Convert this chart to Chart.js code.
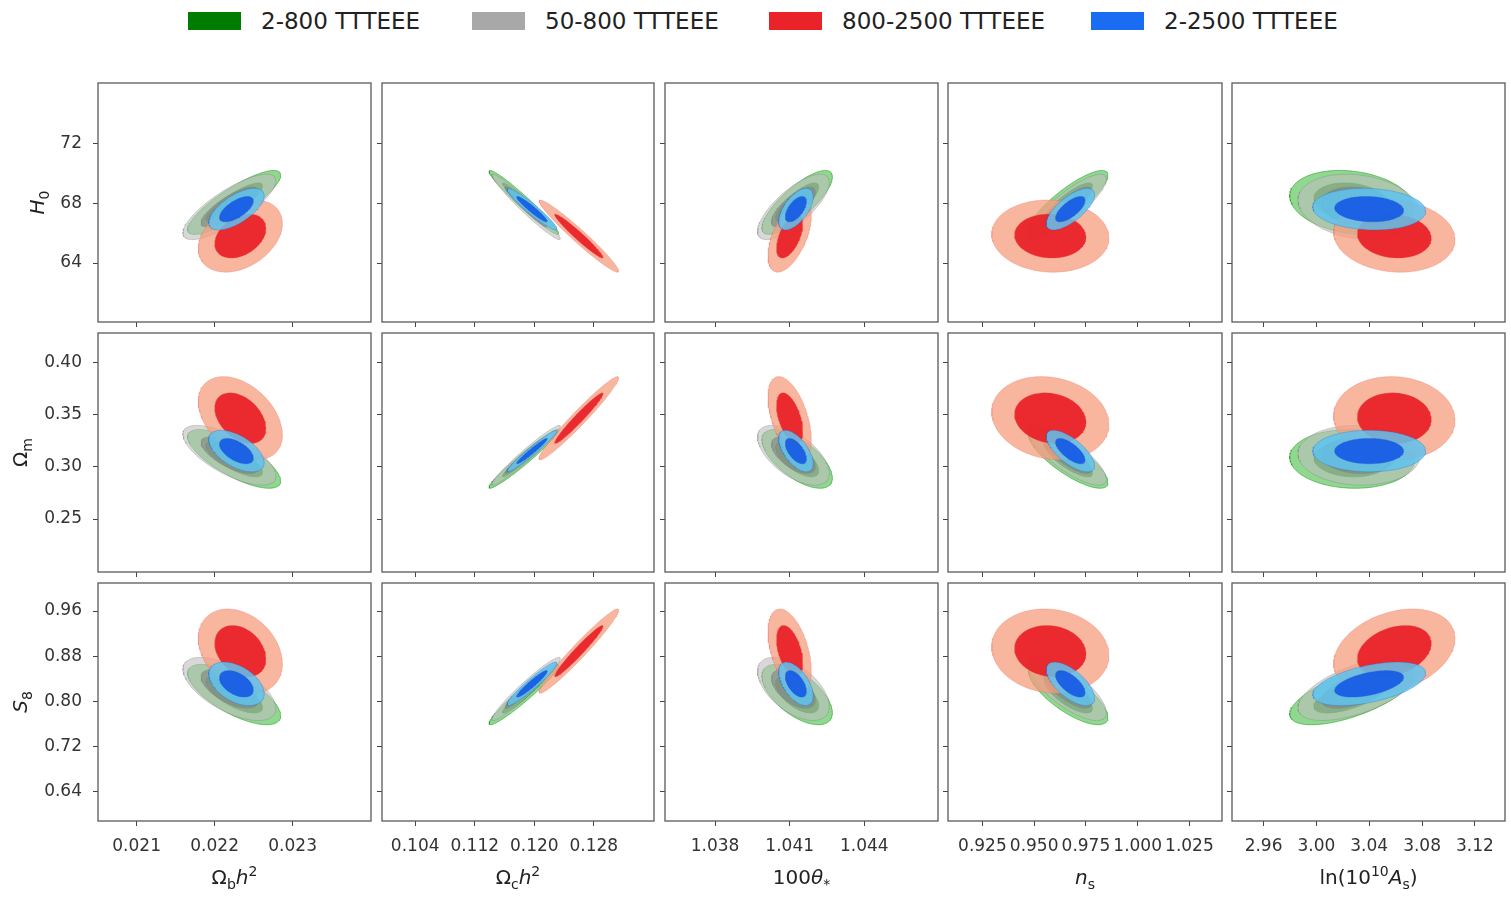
<!DOCTYPE html>
<html>
<head>
<meta charset="utf-8">
<title>TTTEEE multipole-range constraints</title>
<script src="https://cdn.jsdelivr.net/npm/chart.js@4.4.1/dist/chart.umd.min.js"></script>
<style>
  body { margin: 0; background: #fff; width: 1511px; height: 898px; overflow: hidden; position: relative; }
  .key { position: absolute; top: 12px; width: 53px; height: 18px; }
  .keyLabel { position: absolute; top: 21px; transform: translateY(-50%); line-height: 1;
              font: 23px 'DejaVu Sans', sans-serif; color: #222; white-space: nowrap; }
</style>
</head>
<body>
<div id="legend"></div>
<script>
// ---- axes ----
const xTicks = [
  [0.021, 0.022, 0.023],
  [0.104, 0.112, 0.120, 0.128],
  [1.038, 1.041, 1.044],
  [0.925, 0.950, 0.975, 1.000, 1.025],
  [2.96, 3.00, 3.04, 3.08, 3.12]
];
const xTickLabels = [
  ['0.021', '0.022', '0.023'],
  ['0.104', '0.112', '0.120', '0.128'],
  ['1.038', '1.041', '1.044'],
  ['0.925', '0.950', '0.975', '1.000', '1.025'],
  ['2.96', '3.00', '3.04', '3.08', '3.12']
];
const xRanges = [[0.020505, 0.024005], [0.09954, 0.13609], [1.03599, 1.04696], [0.90838, 1.04075], [2.9361, 3.1428]];

const yTicks = [
  [64, 68, 72],
  [0.25, 0.30, 0.35, 0.40],
  [0.64, 0.72, 0.80, 0.88, 0.96]
];
const yTickLabels = [
  ['64', '68', '72'],
  ['0.25', '0.30', '0.35', '0.40'],
  ['0.64', '0.72', '0.80', '0.88', '0.96']
];
const yRanges = [[60.06, 76.03], [0.1993, 0.428], [0.5881, 1.0096]];

// ---- chains: columns = [ombh2, omch2, 100theta, ns, logA], rows = [H0, Omega_m, S8] ----
const seriesNames = ['2-800 TTTEEE', '50-800 TTTEEE', '800-2500 TTTEEE', '2-2500 TTTEEE'];

const mean2to800X = [0.02225, 0.1186, 1.04130, 0.9665, 3.027];
const mean2to800Y = [68.05, 0.3075, 0.812];
const sigma2to800X = [0.00024, 0.00188, 0.00057, 0.0077, 0.019];
const sigma2to800Y = [0.86, 0.0113, 0.0215];
const corr2to800 = [
  [0.85, -0.97, 0.80, 0.85, -0.20],
  [-0.75, 0.97, -0.65, -0.80, -0.05],
  [-0.70, 0.96, -0.60, -0.75, 0.65]
];

const mean50to800X = [0.02219, 0.1189, 1.04115, 0.9660, 3.032];
const mean50to800Y = [67.75, 0.3110, 0.8220];
const sigma50to800X = [0.00024, 0.00185, 0.00058, 0.0076, 0.0185];
const sigma50to800Y = [0.88, 0.0115, 0.0225];
const corr50to800 = [
  [0.80, -0.97, 0.75, 0.85, -0.20],
  [-0.70, 0.97, -0.60, -0.80, -0.05],
  [-0.62, 0.96, -0.55, -0.75, 0.60]
];

const mean800to2500X = [0.02233, 0.1260, 1.04100, 0.9578, 3.059];
const mean800to2500Y = [65.8, 0.3465, 0.889];
const sigma800to2500X = [0.000217, 0.00215, 0.00035, 0.0114, 0.0185];
const sigma800to2500Y = [0.97, 0.0160, 0.0300];
const corr800to2500 = [
  [0.35, -0.97, 0.55, -0.05, -0.10],
  [-0.40, 0.97, -0.50, -0.15, -0.05],
  [-0.30, 0.97, -0.45, -0.10, 0.30]
];

const mean2to2500X = [0.02228, 0.1197, 1.04125, 0.9675, 3.040];
const mean2to2500Y = [67.6, 0.3150, 0.8310];
const sigma2to2500X = [0.000143, 0.00135, 0.00028, 0.0047, 0.0172];
const sigma2to2500Y = [0.56, 0.0080, 0.0155];
const corr2to2500 = [
  [0.65, -0.95, 0.60, 0.70, -0.10],
  [-0.55, 0.97, -0.60, -0.70, 0.00],
  [-0.45, 0.95, -0.55, -0.65, 0.50]
];

const chains = [
  { meanX: mean2to800X, meanY: mean2to800Y, sigmaX: sigma2to800X, sigmaY: sigma2to800Y, corr: corr2to800 },
  { meanX: mean50to800X, meanY: mean50to800Y, sigmaX: sigma50to800X, sigmaY: sigma50to800Y, corr: corr50to800 },
  { meanX: mean800to2500X, meanY: mean800to2500Y, sigmaX: sigma800to2500X, sigmaY: sigma800to2500Y, corr: corr800to2500 },
  { meanX: mean2to2500X, meanY: mean2to2500Y, sigmaX: sigma2to2500X, sigmaY: sigma2to2500Y, corr: corr2to2500 }
];

// 68% and 95% levels for a 2D gaussian (sqrt of delta chi^2)
const LEVEL_68 = 1.517;
const LEVEL_95 = 2.486;

const FONT = "'DejaVu Sans', sans-serif";

const palette = [
  { key: '#007d00', outer: 'rgba(125,208,125,0.85)', inner: 'rgba(40,140,40,0.85)', edge: 'rgba(0,140,0,0.45)' },
  { key: '#a8a8a8', outer: 'rgba(190,190,190,0.6)', inner: 'rgba(130,130,130,0.6)', edge: 'rgba(120,120,120,0.3)' },
  { key: '#ea232b', outer: 'rgba(246,158,126,0.75)', inner: 'rgba(232,30,38,0.92)', edge: 'rgba(230,90,80,0.25)' },
  { key: '#1a6df3', outer: 'rgba(95,195,240,0.85)', inner: 'rgba(22,90,228,0.92)', edge: 'rgba(30,100,210,0.3)' }
];

// panel boxes in page pixels
const panelCols = [[98, 371], [382, 654], [665, 938], [948, 1222], [1232, 1505]];
const panelRows = [[83, 322], [333, 572], [583, 821]];

// axis titles: [text, style]
const xTitles = [
  [['Ω', ''], ['b', 'sub'], ['h', 'it'], ['2', 'sup']],
  [['Ω', ''], ['c', 'sub'], ['h', 'it'], ['2', 'sup']],
  [['100', ''], ['θ', 'it'], ['*', 'sub']],
  [['n', 'it'], ['s', 'sub']],
  [['ln(10', ''], ['10', 'sup'], ['A', 'it'], ['s', 'sub'], [')', '']]
];
const yTitles = [
  [['H', 'it'], ['0', 'sub']],
  [['Ω', ''], ['m', 'sub']],
  [['S', 'it'], ['8', 'sub']]
];
const yTitleX = [37, 20, 20];

// ---- legend ----
const legendKeys = [188, 472, 769, 1091];
const legend = document.getElementById('legend');
seriesNames.forEach((name, i) => {
  const box = document.createElement('div');
  box.className = 'key';
  box.style.left = legendKeys[i] + 'px';
  box.style.background = palette[i].key;
  legend.appendChild(box);
  const label = document.createElement('div');
  label.className = 'keyLabel';
  label.style.left = (legendKeys[i] + 73) + 'px';
  label.textContent = name;
  legend.appendChild(label);
});

// ---- helpers ----
function ellipsePoints(mx, my, sx, sy, rho, k) {
  const pts = [];
  const n = 120;
  const q = Math.sqrt(1 - rho * rho);
  for (let i = 0; i <= n; i++) {
    const t = 2 * Math.PI * i / n;
    const u = Math.cos(t), v = Math.sin(t);
    pts.push({ x: mx + k * sx * u, y: my + k * sy * (rho * u + q * v) });
  }
  return pts;
}

function panelDatasets(r, c) {
  const out = [];
  chains.forEach((ch, i) => {
    [LEVEL_95, LEVEL_68].forEach((k, j) => {
      out.push({
        label: seriesNames[i],
        data: ellipsePoints(ch.meanX[c], ch.meanY[r], ch.sigmaX[c], ch.sigmaY[r], ch.corr[r][c], k),
        showLine: true,
        fill: 'shape',
        backgroundColor: j ? palette[i].inner : palette[i].outer,
        borderColor: palette[i].edge,
        borderWidth: 1,
        pointRadius: 0,
        // later chains sit on top
        order: (chains.length - i) * 2 - j
      });
    });
  });
  return out;
}

function partFont(kind, size) {
  const s = (kind === 'sub' || kind === 'sup') ? Math.round(size * 0.7) : size;
  return (kind === 'it' ? 'italic ' : '') + s + 'px ' + FONT;
}

function drawRich(ctx, parts, cx, cy, size, angle) {
  ctx.save();
  ctx.translate(cx, cy);
  ctx.rotate(angle);
  ctx.textBaseline = 'alphabetic';
  ctx.textAlign = 'left';
  ctx.fillStyle = '#222';
  let total = 0;
  const widths = parts.map(p => {
    ctx.font = partFont(p[1], size);
    const w = ctx.measureText(p[0]).width;
    total += w;
    return w;
  });
  let x = -total / 2;
  parts.forEach((p, i) => {
    ctx.font = partFont(p[1], size);
    const dy = p[1] === 'sub' ? size * 0.25 : (p[1] === 'sup' ? -size * 0.42 : 0);
    ctx.fillText(p[0], x, size * 0.35 + dy);
    x += widths[i];
  });
  ctx.restore();
}

// box around each panel
const panelFrame = {
  id: 'panelFrame',
  afterDraw(chart) {
    const { ctx, chartArea: a } = chart;
    ctx.save();
    ctx.strokeStyle = '#5a5a5a';
    ctx.lineWidth = 1.3;
    ctx.strokeRect(a.left, a.top, a.right - a.left, a.bottom - a.top);
    ctx.restore();
  }
};

// axis titles with sub/superscripts
const axisTitles = {
  id: 'axisTitles',
  afterDraw(chart, args, opts) {
    const { ctx, chartArea: a } = chart;
    if (opts.row === 2) drawRich(ctx, xTitles[opts.col], (a.left + a.right) / 2, a.bottom + 56, 20, 0);
    if (opts.col === 0) drawRich(ctx, yTitles[opts.row], yTitleX[opts.row], (a.top + a.bottom) / 2, 20, -Math.PI / 2);
  }
};

Chart.defaults.font.family = FONT;
Chart.defaults.color = '#333';

// ---- grid of panels ----
panelRows.forEach((rowSpan, r) => {
  panelCols.forEach((colSpan, c) => {
    const padL = c === 0 ? colSpan[0] : 8;
    const padB = r === 2 ? 898 - rowSpan[1] : 8;
    const w = colSpan[1] - colSpan[0] + padL + 2;
    const h = rowSpan[1] - rowSpan[0] + 2 + padB;

    const canvas = document.createElement('canvas');
    canvas.width = w;
    canvas.height = h;
    canvas.style.cssText = `position:absolute;left:${colSpan[0] - padL}px;top:${rowSpan[0] - 2}px;width:${w}px;height:${h}px`;
    document.body.appendChild(canvas);

    new Chart(canvas, {
      type: 'scatter',
      data: { datasets: panelDatasets(r, c) },
      plugins: [panelFrame, axisTitles],
      options: {
        responsive: false,
        devicePixelRatio: 1,
        animation: false,
        events: [],
        layout: { padding: { top: 2, right: 2, left: 0, bottom: 0 } },
        plugins: {
          legend: { display: false },
          tooltip: { enabled: false },
          axisTitles: { row: r, col: c }
        },
        scales: {
          x: {
            type: 'linear',
            min: xRanges[c][0],
            max: xRanges[c][1],
            afterBuildTicks: s => { s.ticks = xTicks[c].map(v => ({ value: v })); },
            afterFit: s => { s.height = padB; s.paddingLeft = 0; s.paddingRight = 0; },
            border: { display: false },
            grid: { drawOnChartArea: false, drawTicks: true, tickLength: 5, tickColor: '#444' },
            ticks: {
              display: r === 2,
              autoSkip: false,
              maxRotation: 0,
              padding: 10,
              font: { size: 17 },
              color: '#333',
              callback: (v, i) => xTickLabels[c][i]
            }
          },
          y: {
            type: 'linear',
            min: yRanges[r][0],
            max: yRanges[r][1],
            afterBuildTicks: s => { s.ticks = yTicks[r].map(v => ({ value: v })); },
            afterFit: s => { s.width = padL; s.paddingTop = 0; s.paddingBottom = 0; },
            border: { display: false },
            grid: { drawOnChartArea: false, drawTicks: true, tickLength: 5, tickColor: '#444' },
            ticks: {
              display: c === 0,
              autoSkip: false,
              padding: 11,
              font: { size: 17 },
              color: '#333',
              callback: (v, i) => yTickLabels[r][i]
            }
          }
        }
      }
    });
  });
});
</script>
</body>
</html>
